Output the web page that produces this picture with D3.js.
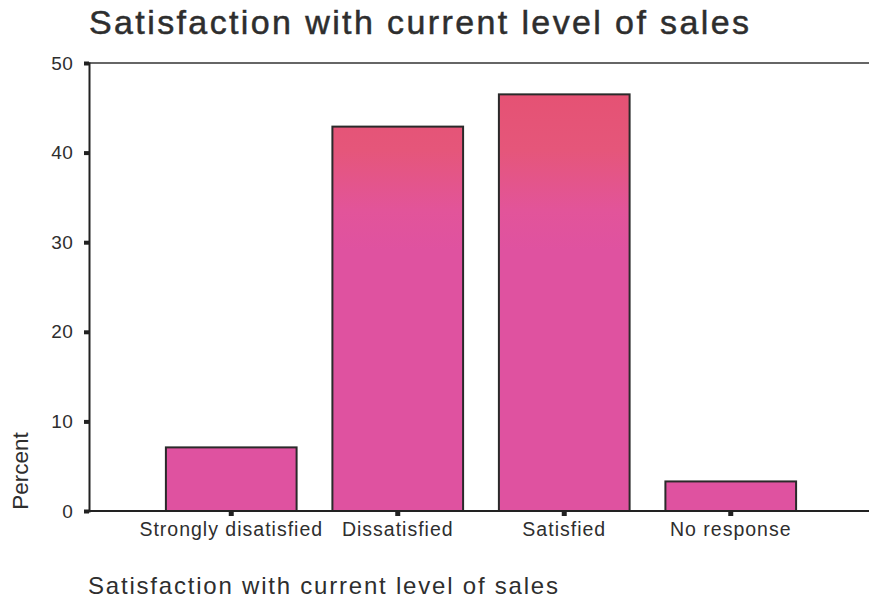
<!DOCTYPE html>
<html>
<head>
<meta charset="utf-8">
<script src="https://cdn.jsdelivr.net/npm/d3@7"></script>
<style>
  html, body { margin: 0; padding: 0; background: #ffffff; }
  svg { display: block; }
  text { font-family: "Liberation Sans", Arial, sans-serif; fill: #2e2e2e; }
</style>
</head>
<body>
<svg id="chart" width="869" height="600"></svg>
<script>
const categories = ["Strongly disatisfied", "Dissatisfied", "Satisfied", "No response"];
const percentValues = [7.1, 42.9, 46.5, 3.3];
const yTickValues = [0, 10, 20, 30, 40, 50];
const chartTitle = "Satisfaction with current level of sales";
const xAxisTitle = "Satisfaction with current level of sales";
const yAxisTitle = "Percent";

const svg = d3.select("#chart");
const W = 869, H = 600;
const plotLeft = 89, plotTop = 63, plotBottom = 511;

const y = d3.scaleLinear().domain([0, 50]).range([plotBottom, plotTop]);
const x = d3.scaleBand().domain(categories).range([148, 814]).paddingInner(0.215).paddingOuter(0.1075);

// gradient (scan tint: redder at top)
const defs = svg.append("defs");
const grad = defs.append("linearGradient").attr("id", "barGrad")
  .attr("gradientUnits", "userSpaceOnUse").attr("x1", 0).attr("x2", 0).attr("y1", 95).attr("y2", 250);
grad.append("stop").attr("offset", "0").attr("stop-color", "#e55274");
grad.append("stop").attr("offset", "0.35").attr("stop-color", "#e5567a");
grad.append("stop").attr("offset", "0.75").attr("stop-color", "#e2549a");
grad.append("stop").attr("offset", "1").attr("stop-color", "#df52a0");

// Title
svg.append("text").attr("x", 89).attr("y", 34)
  .attr("font-size", 34).attr("textLength", 660).attr("lengthAdjust", "spacing")
  .attr("stroke", "#2e2e2e").attr("stroke-width", 0.5)
  .text(chartTitle);

// top frame line
svg.append("line").attr("x1", plotLeft).attr("x2", W).attr("y1", plotTop).attr("y2", plotTop)
  .attr("stroke", "#333").attr("stroke-width", 1.5);

// bars
svg.append("g").selectAll("rect").data(categories).join("rect")
  .attr("x", d => x(d))
  .attr("width", x.bandwidth())
  .attr("y", (d, i) => y(percentValues[i]))
  .attr("height", (d, i) => y(0) - y(percentValues[i]))
  .attr("fill", "url(#barGrad)")
  .attr("stroke", "#2a2a2a").attr("stroke-width", 2);

// Y axis
const yAxis = svg.append("g").attr("transform", `translate(${plotLeft},0)`)
  .call(d3.axisLeft(y).tickValues(yTickValues).tickSize(5).tickPadding(11));
yAxis.select(".domain").attr("stroke", "#222").attr("stroke-width", 2);
yAxis.selectAll(".tick line").attr("stroke", "#222").attr("stroke-width", 4);
yAxis.selectAll(".tick text").attr("font-size", 19).attr("fill", "#2e2e2e")
  .attr("letter-spacing", 0.3)
  .attr("font-family", "'Liberation Sans', Arial, sans-serif");

// X axis
const xAxis = svg.append("g").attr("transform", `translate(0,${plotBottom})`)
  .call(d3.axisBottom(x).tickSize(5).tickPadding(6));
xAxis.select(".domain").remove();
xAxis.append("line").attr("x1", plotLeft).attr("x2", W).attr("y1", 0).attr("y2", 0)
  .attr("stroke", "#222").attr("stroke-width", 2);
xAxis.selectAll(".tick line").attr("stroke", "#222").attr("stroke-width", 5);
xAxis.selectAll(".tick text").attr("font-size", 19.5).attr("fill", "#2e2e2e")
  .attr("letter-spacing", 1)
  .attr("font-family", "'Liberation Sans', Arial, sans-serif");

// axis titles
svg.append("text").attr("x", 88).attr("y", 594).attr("font-size", 24)
  .attr("textLength", 470).attr("lengthAdjust", "spacing")
  .text(xAxisTitle);
svg.append("text").attr("transform", "translate(28,471) rotate(-90)")
  .attr("text-anchor", "middle").attr("font-size", 22.5)
  .text(yAxisTitle);
</script>
</body>
</html>
